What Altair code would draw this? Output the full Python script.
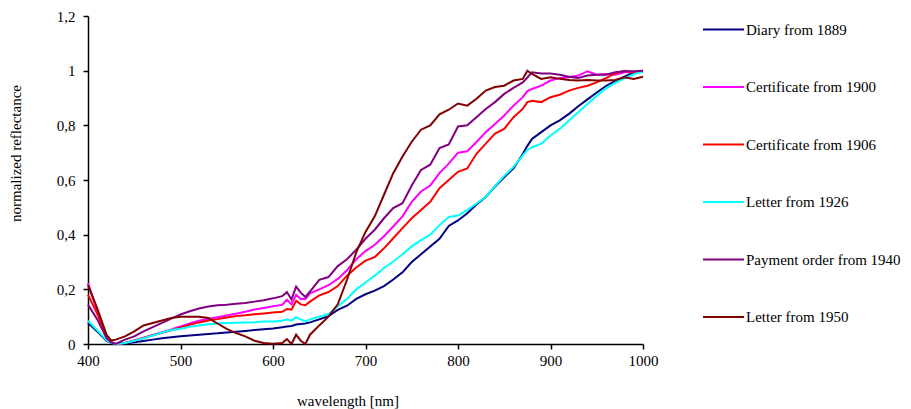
import altair as alt
import pandas as pd

wavelengths = [
    400, 410, 420, 425, 430, 440, 450, 460, 470, 480,
    490, 500, 510, 520, 530, 540, 550, 560, 570, 580,
    590, 600, 610, 615, 620, 625, 630, 635, 640, 650,
    660, 670, 680, 690, 700, 710, 720, 730, 740, 750,
    760, 770, 780, 790, 800, 810, 820, 830, 840, 850,
    860, 870, 875, 880, 890, 900, 910, 920, 930, 940,
    950, 960, 970, 980, 990, 1000,
]

diary_1889 = [
    0.078, 0.046, 0.012, 0.004, 0.0, 0.002, 0.006, 0.011, 0.016, 0.021,
    0.025, 0.028, 0.031, 0.034, 0.037, 0.039, 0.042, 0.045, 0.048, 0.051,
    0.054, 0.057, 0.061, 0.064, 0.066, 0.071, 0.073, 0.075, 0.079, 0.090,
    0.102, 0.125, 0.140, 0.165, 0.182, 0.195, 0.212, 0.236, 0.262, 0.300,
    0.328, 0.357, 0.385, 0.432, 0.452, 0.478, 0.510, 0.538, 0.576, 0.610,
    0.643, 0.695, 0.725, 0.750, 0.775, 0.800, 0.818, 0.842, 0.870, 0.895,
    0.920, 0.944, 0.963, 0.978, 0.993, 1.000,
]

certificate_1900 = [
    0.223, 0.120, 0.030, 0.008, 0.0, 0.004, 0.013, 0.023, 0.033, 0.043,
    0.053, 0.064, 0.075, 0.085, 0.092, 0.098, 0.104, 0.111, 0.118, 0.126,
    0.132, 0.138, 0.143, 0.162, 0.145, 0.180, 0.165, 0.165, 0.185, 0.200,
    0.215, 0.238, 0.270, 0.310, 0.340, 0.363, 0.394, 0.430, 0.467, 0.520,
    0.558, 0.580, 0.625, 0.660, 0.700, 0.705, 0.739, 0.775, 0.805, 0.836,
    0.872, 0.903, 0.925, 0.933, 0.945, 0.964, 0.973, 0.976, 0.982, 0.998,
    0.985, 0.988, 0.985, 0.994, 0.994, 0.998,
]

certificate_1906 = [
    0.180, 0.110, 0.028, 0.008, 0.0, 0.004, 0.013, 0.022, 0.032, 0.041,
    0.050, 0.060, 0.070, 0.079, 0.086, 0.091, 0.097, 0.102, 0.105, 0.109,
    0.112, 0.115, 0.118, 0.128, 0.126, 0.158, 0.145, 0.142, 0.155, 0.178,
    0.190, 0.212, 0.250, 0.280, 0.305, 0.318, 0.350, 0.387, 0.424, 0.460,
    0.490, 0.520, 0.570, 0.600, 0.630, 0.642, 0.696, 0.733, 0.770, 0.787,
    0.830, 0.860, 0.885, 0.890, 0.885, 0.903, 0.912, 0.927, 0.937, 0.945,
    0.957, 0.973, 0.990, 1.000, 0.994, 0.998,
]

letter_1926 = [
    0.085, 0.050, 0.015, 0.004, 0.0, 0.004, 0.012, 0.021, 0.031, 0.042,
    0.051, 0.056, 0.063, 0.068, 0.072, 0.075, 0.077, 0.078, 0.079, 0.080,
    0.082, 0.082, 0.085, 0.090, 0.085, 0.098, 0.090, 0.083, 0.090, 0.100,
    0.110, 0.138, 0.165, 0.200, 0.225, 0.250, 0.278, 0.302, 0.328, 0.357,
    0.380, 0.400, 0.435, 0.465, 0.470, 0.490, 0.514, 0.538, 0.578, 0.615,
    0.648, 0.690, 0.710, 0.720, 0.733, 0.763, 0.787, 0.818, 0.848, 0.878,
    0.908, 0.935, 0.955, 0.972, 0.987, 0.997,
]

payment_order_1940 = [
    0.144, 0.090, 0.022, 0.006, 0.0, 0.016, 0.028, 0.046, 0.062, 0.077,
    0.093, 0.108, 0.120, 0.130, 0.137, 0.142, 0.144, 0.147, 0.150, 0.155,
    0.160, 0.167, 0.175, 0.190, 0.163, 0.210, 0.188, 0.172, 0.192, 0.235,
    0.245, 0.285, 0.310, 0.345, 0.385, 0.418, 0.460, 0.497, 0.515, 0.580,
    0.637, 0.656, 0.717, 0.730, 0.796, 0.800, 0.830, 0.860, 0.885, 0.915,
    0.937, 0.957, 0.975, 0.994, 0.990, 0.990, 0.985, 0.978, 0.973, 0.982,
    0.985, 0.985, 0.994, 0.998, 0.998, 1.000,
]

letter_1950 = [
    0.215, 0.130, 0.034, 0.013, 0.016, 0.028, 0.046, 0.068, 0.077, 0.086,
    0.095, 0.100, 0.100, 0.100, 0.095, 0.075, 0.055, 0.040, 0.028, 0.012,
    0.004, 0.001, 0.004, 0.018, 0.000, 0.034, 0.012, 0.000, 0.034, 0.068,
    0.100, 0.145, 0.235, 0.335, 0.410, 0.467, 0.546, 0.625, 0.686, 0.740,
    0.784, 0.800, 0.840, 0.857, 0.880, 0.872, 0.897, 0.927, 0.940, 0.945,
    0.964, 0.970, 1.000, 0.988, 0.970, 0.976, 0.970, 0.966, 0.964, 0.966,
    0.964, 0.964, 0.966, 0.976, 0.970, 0.978,
]

series_names = [
    "Diary from 1889",
    "Certificate from 1900",
    "Certificate from 1906",
    "Letter from 1926",
    "Payment order from 1940",
    "Letter from 1950",
]
series_values = [diary_1889, certificate_1900, certificate_1906,
                 letter_1926, payment_order_1940, letter_1950]
series_colors = ["#000080", "#FF00FF", "#FF0000", "#00FFFF", "#800080", "#800000"]

x_ticks = [400, 500, 600, 700, 800, 900, 1000]
y_ticks = [0, 0.2, 0.4, 0.6, 0.8, 1.0, 1.2]

rows = []
for order, (name, vals) in enumerate(zip(series_names, series_values)):
    for w, v in zip(wavelengths, vals):
        rows.append({"wavelength": w, "reflectance": v, "sample": name, "k": order})
df = pd.DataFrame(rows)

FONT = "Liberation Serif"

chart = alt.Chart(df).mark_line(strokeWidth=2).encode(
    x=alt.X("wavelength:Q",
            scale=alt.Scale(domain=[400, 1000], nice=False, zero=False),
            axis=alt.Axis(values=x_ticks, title="wavelength [nm]", format="d",
                          labelFont=FONT, labelFontSize=15, titleFont=FONT,
                          labelFlush=False, labelPadding=4, titleX=259.5, titleY=61,
                          titleAlign="center", titleBaseline="alphabetic")),
    y=alt.Y("reflectance:Q",
            scale=alt.Scale(domain=[0, 1.2], nice=False),
            axis=alt.Axis(values=y_ticks, title="normalized reflectance",
                          labelFont=FONT, labelFontSize=15, titleFont=FONT,
                          labelExpr="replace(format(datum.value, '~g'), '.', ',')",
                          labelFlush=False, labelPadding=8, titleX=-73, titleY=137,
                          titleAlign="center", titleBaseline="middle")),
    color=alt.Color("sample:N",
                    scale=alt.Scale(domain=series_names, range=series_colors),
                    legend=alt.Legend(title=None, orient="none", legendX=614, legendY=-8,
                                      symbolType="stroke", symbolSize=1681,
                                      symbolStrokeWidth=2, labelFontSize=15,
                                      labelFont=FONT, labelColor="black",
                                      rowPadding=27.5, labelOffset=1)),
    order=alt.Order("k:Q"),
).properties(
    width=555, height=328,
    padding={"left": 80, "top": 8, "right": 260, "bottom": 68},
    autosize=alt.AutoSizeParams(type="none"),
).configure_view(stroke=None).configure_axis(
    grid=False, domainColor="black", domainWidth=1.5, tickColor="black",
    tickWidth=1.5, tickSize=5, labelColor="black", titleColor="black",
    labelFont=FONT, titleFont=FONT, labelFontSize=15, titleFontSize=15,
    titleFontWeight="normal",
)

chart.save("out.html", embed_options={"renderer": "svg", "actions": False})
